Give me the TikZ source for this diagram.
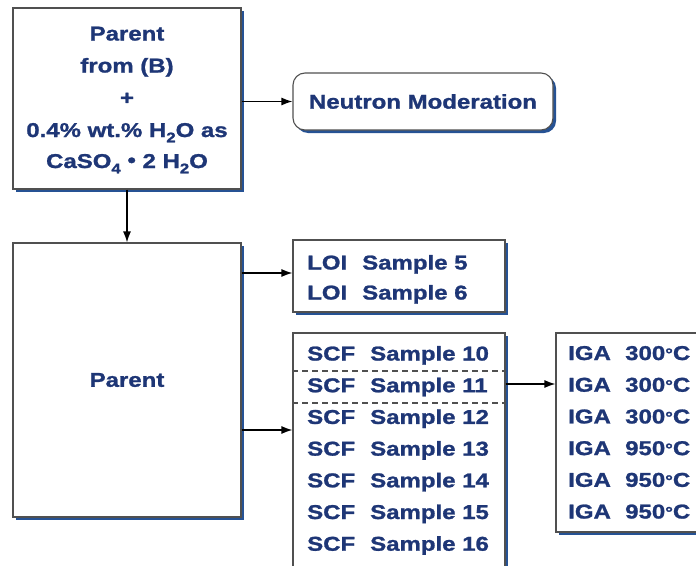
\documentclass[tikz,border=0pt]{standalone}
\usepackage{fontspec}
\setmainfont{Liberation Sans}[FakeStretch=1.2, BoldFeatures={FakeBold=1.2}]
\usetikzlibrary{arrows.meta,shadows}
\definecolor{txt}{RGB}{30,54,118}
\definecolor{shd}{RGB}{38,82,148}
\definecolor{brd}{RGB}{80,80,80}
\newcommand{\lowsub}[1]{\raisebox{-0.5ex}{\fontsize{14}{14}\selectfont #1}}
\begin{document}
\begin{tikzpicture}[x=1pt,y=-1pt,
  lbl/.style={text=txt, font=\fontsize{20}{24}\bfseries\selectfont, inner sep=0pt},
  box/.style={draw=brd, line width=1.1pt, fill=white, inner sep=0pt,
    drop shadow={shadow xshift=3pt, shadow yshift=-3pt, fill=shd, opacity=1}},
  arr/.style={draw=black, line width=1.4pt, -{Latex[length=11pt,width=8pt]}}]
\useasboundingbox (0,0) rectangle (696,565);
\clip (0,0) rectangle (696,565);
% boxes
\node[box, minimum width=228pt, minimum height=181pt] (top) at (127,98.5) {};
\node[box, minimum width=228pt, minimum height=274pt] (parent) at (127,380) {};
\node[box, rounded corners=12pt, minimum width=260pt, minimum height=57pt] (neut) at (423,101.5) {};
\node[box, minimum width=212pt, minimum height=72pt] (loi) at (399,276) {};
\node[box, minimum width=212pt, minimum height=236pt] (scf) at (399,451) {};
\node[box, minimum width=170pt, minimum height=199pt] (iga) at (641,432.5) {};
% dashed separators
\draw[brd, line width=1.2pt, dash pattern=on 6pt off 4pt] (scf.west |- 0,371) -- (scf.east |- 0,371);
\draw[brd, line width=1.2pt, dash pattern=on 6pt off 4pt] (scf.west |- 0,403) -- (scf.east |- 0,403);
% top box text
\node[lbl, anchor=base] (t1) at (127,40.5) {Parent};
\node[lbl, anchor=base] (t2) at (127,72.5) {from (B)};
\node[lbl, anchor=base] (t3) at (127,104.5) {+};
\node[lbl, anchor=base] (t4) at (127,137) {0.4\% wt.\% H\lowsub{2}O as};
\node[lbl, anchor=base] (t5) at (127,168) {CaSO\lowsub{4} \raisebox{0.1ex}{•} 2 H\lowsub{2}O};
% parent
\node[lbl] (ptxt) at (parent.center) {Parent};
% neutron
\node[lbl] (ntxt) at (neut.center) {Neutron Moderation};
% LOI rows
\node[lbl, anchor=base west] (l5) at (307,269.5) {\makebox[55pt][l]{LOI}Sample 5};
\node[lbl, anchor=base west] (l6) at (307,299.5) {\makebox[55pt][l]{LOI}Sample 6};
% SCF rows
\foreach \n [count=\k from 0] in {10,11,12,13,14,15,16}
  \node[lbl, anchor=base west] (s\n) at (307,{360.5+31.7*\k}) {\makebox[63pt][l]{SCF}Sample \n};
% IGA rows
\foreach \t [count=\k from 0] in {300,300,300,950,950,950}
  \node[lbl, anchor=base west] (g\k) at (568,{360+31.7*\k}) {\makebox[57pt][l]{IGA}\t{\fontsize{16}{16}\selectfont\raisebox{0.05ex}{°}}C};
% arrows
\draw[arr] (top.east |- neut.west) -- (neut.west);
\draw[arr] (top.south) -- (parent.north);
\draw[arr] (parent.east |- 0,273) -- (loi.west |- 0,273);
\draw[arr] (parent.east |- 0,430) -- (scf.west |- 0,430);
\draw[arr] (scf.east |- 0,384) -- (iga.west |- 0,384);
\end{tikzpicture}
\end{document}
